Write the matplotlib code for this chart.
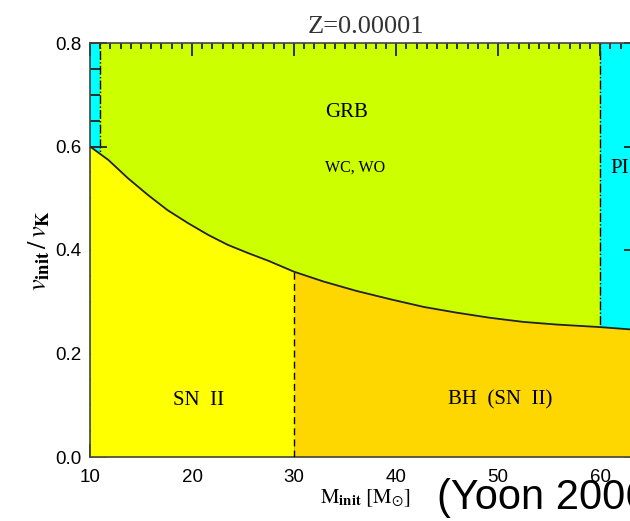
import matplotlib
matplotlib.use("Agg")
import matplotlib.pyplot as plt
from matplotlib.ticker import MultipleLocator, FormatStrFormatter

# boundary curve
mass = [10, 11.8, 13.7, 15.7, 17.6, 19.6, 21.6, 23.5, 25.5, 27.5, 30,
        32.9, 36.1, 39.4, 42.7, 45.9, 49.2, 52.5, 55.7, 60, 64]
vrot = [0.600, 0.574, 0.539, 0.506, 0.477, 0.452, 0.429, 0.410, 0.394, 0.379, 0.358,
        0.339, 0.321, 0.305, 0.290, 0.279, 0.269, 0.261, 0.256, 0.251, 0.245]
m_bh = 30      # SN II / BH split
m_left = 11    # left edge of GRB zone
m_pisn = 60    # PISN edge

yellow = "#FFFF00"
orange = "#FFD700"
green = "#CCFF00"
cyan = "#00FFFF"

plt.rcParams['mathtext.fontset'] = 'stix'
fig = plt.figure(figsize=(6.3, 5.21), dpi=100)
ax = fig.add_axes([90/630, 64/521, 551/630, 414/521])

ax.axvspan(10, m_left, color=cyan, zorder=0, lw=0)
ax.axvspan(m_left, m_pisn, color=green, zorder=0, lw=0)
ax.axvspan(m_pisn, 64, color=cyan, zorder=0, lw=0)
ax.axvline(m_left, color="k", ls="-.", lw=1, zorder=1)
ax.axvline(m_pisn, color="k", ls="-.", lw=1, zorder=1)

below = [m <= m_bh for m in mass]
above = [m >= m_bh for m in mass]
ax.fill_between(mass, 0, vrot, where=below, color=yellow, lw=0, zorder=2)
ax.fill_between(mass, 0, vrot, where=above, color=orange, lw=0, zorder=2)
ax.plot(mass, vrot, color="#222222", lw=1.3, zorder=3)
ax.vlines(m_bh, 0, vrot[mass.index(m_bh)], colors="k", linestyles=(0, (5, 3)), lw=1, zorder=3)

serif = "Liberation Serif"
ax.text(33.0, 0.665, "GRB", family=serif, fontsize=15, va="center", zorder=4)
ax.text(33.0, 0.560, "WC, WO", family=serif, fontsize=11.5, va="center", zorder=4)
ax.text(18.1, 0.110, "SN  II", family=serif, fontsize=15, va="center", zorder=4)
ax.text(45.1, 0.110, "BH  (SN  II)", family=serif, fontsize=15, va="center", zorder=4)
ax.text(61.0, 0.558, "PISN", family=serif, fontsize=15, va="center", zorder=4)

ax.set_xlim(10, 64)
ax.set_ylim(0, 0.8)
ax.xaxis.set_major_locator(MultipleLocator(10))
ax.xaxis.set_minor_locator(MultipleLocator(1))
ax.yaxis.set_major_locator(MultipleLocator(0.2))
ax.yaxis.set_minor_locator(MultipleLocator(0.05))
ax.yaxis.set_major_formatter(FormatStrFormatter("%.1f"))
ax.tick_params(which="both", direction="in", top=True, right=True, width=1.3, color="#222222")
ax.tick_params(axis="x", which="major", length=9.5, pad=9)
ax.tick_params(axis="x", which="minor", length=4.5)
ax.tick_params(axis="y", which="major", length=12, pad=6)
ax.tick_params(axis="y", which="minor", length=7)
for lab in ax.get_xticklabels() + ax.get_yticklabels():
    lab.set_family("Liberation Sans")
    lab.set_fontsize(13.5)
for s in ax.spines.values():
    s.set_color("#444444")
    s.set_linewidth(1.2)

ax.set_title("Z=0.00001", family=serif, fontsize=19, color="#333333", pad=7)
ax.set_ylabel(r"$\mathit{v}_{\mathbf{init}}\,/\,\mathit{v}_{\mathbf{K}}$", fontsize=19, labelpad=2)
ax.set_xlabel(r"$\mathrm{M}_{\mathbf{init}}\ [\mathrm{M}_{\odot}]$", fontsize=15, labelpad=1)

fig.text(437/630, 3/521, "(Yoon 2006)", family="Liberation Sans", fontsize=30, va="bottom")

fig.savefig("out.png", dpi=100)
